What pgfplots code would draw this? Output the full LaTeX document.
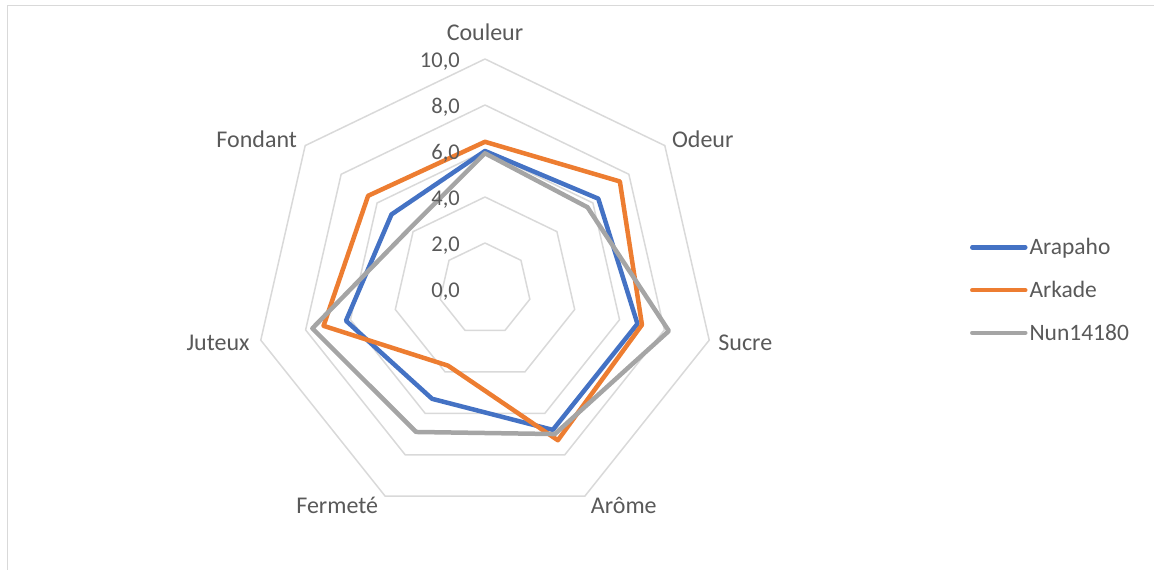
\documentclass[border=0pt]{standalone}
\usepackage{fontspec}
\setmainfont{Carlito}
\usepackage{pgfplots}
\usepackage{pgfplotstable}
\pgfplotsset{compat=1.18}
\usepgfplotslibrary{polar}
\definecolor{cA}{HTML}{4472C4}
\definecolor{cB}{HTML}{ED7D31}
\definecolor{cC}{HTML}{A5A5A5}
\definecolor{gridc}{HTML}{D9D9D9}
\definecolor{txt}{HTML}{595959}
\definecolor{framec}{HTML}{D9D9D9}

\pgfplotstableread{
ang      Arapaho Arkade Nun
90       6.0     6.4    5.9
38.5714  6.3     7.5    5.7
-12.8571 6.8     7.0    8.2
-64.2857 6.8     7.3    7.0
-115.7143 5.3    3.7    6.9
-167.1429 6.2    7.2    7.7
-218.5714 5.2    6.5    4.2
-270     6.0     6.4    5.9
}\radardata

\begin{document}
\begin{tikzpicture}[x=1pt,y=1pt]
\begin{polaraxis}[
  at={(485pt,281pt)}, anchor=center,
  scale only axis, width=460pt, height=460pt,
  hide axis, xmin=0, xmax=360, ymin=0, ymax=10, clip=false,
  every axis plot/.append style={line width=4.5pt, line join=round, line cap=round},
  legend cell align=left,
  legend style={draw=none, fill=none, at={(axis description cs:1.554,0.4978)}, anchor=west,
    inner sep=0pt, row sep=21pt, font=\fontsize{23.5}{27}\selectfont, text=txt,
    nodes={inner sep=2pt}},
  legend image code/.code={\draw[#1, line cap=round] (0pt,0pt) -- (53pt,0pt);},
]
\pgfplotsinvokeforeach{2,4,6,8,10}{
  \addplot[gridc, line width=1.5pt, line join=miter, forget plot] coordinates {
    (90,#1) (38.5714,#1) (-12.8571,#1) (-64.2857,#1) (-115.7143,#1) (-167.1429,#1) (-218.5714,#1) (-270,#1)};
}
\addplot[cA] table[x=ang, y=Arapaho] {\radardata};
\addlegendentry{Arapaho}
\addplot[cB] table[x=ang, y=Arkade] {\radardata};
\addlegendentry{Arkade}
\addplot[cC] table[x=ang, y=Nun] {\radardata};
\addlegendentry{Nun14180}

\begin{scope}[every node/.style={inner sep=0pt, text=txt, font=\fontsize{24}{28}\selectfont}]
\node[anchor=base] at (axis cs:90,10) [yshift=18pt] {Couleur};
\node[anchor=base west] at (axis cs:38.5714,10) [xshift=7pt, yshift=-2pt] {Odeur};
\node[anchor=base west] at (axis cs:-12.8571,10) [xshift=9pt, yshift=-10pt] {Sucre};
\node[anchor=base west] at (axis cs:-64.2857,10) [xshift=6pt, yshift=-17pt] {Arôme};
\node[anchor=base east] at (axis cs:-115.7143,10) [xshift=-7pt, yshift=-17pt] {Fermeté};
\node[anchor=base east] at (axis cs:-167.1429,10) [xshift=-11pt, yshift=-10pt] {Juteux};
\node[anchor=base east] at (axis cs:141.4286,10) [xshift=-8pt, yshift=-2pt] {Fondant};
\end{scope}
\begin{scope}[every node/.style={inner sep=0pt, text=txt, font=\fontsize{22.5}{27}\selectfont}]
\node[anchor=base east] at (axis cs:90,0) [xshift=-25pt, yshift=-9pt] {0,0};
\node[anchor=base east] at (axis cs:90,2) [xshift=-25pt, yshift=-9pt] {2,0};
\node[anchor=base east] at (axis cs:90,4) [xshift=-25pt, yshift=-9pt] {4,0};
\node[anchor=base east] at (axis cs:90,6) [xshift=-25pt, yshift=-9pt] {6,0};
\node[anchor=base east] at (axis cs:90,8) [xshift=-25pt, yshift=-9pt] {8,0};
\node[anchor=base east] at (axis cs:90,10) [xshift=-25pt, yshift=-9pt] {10,0};
\end{scope}
\end{polaraxis}
\draw[framec, line width=1.5pt] (7.5,0) -- (7.5,564.5) -- (1154,564.5);
\pgfresetboundingbox
\path[use as bounding box] (0,0) rectangle (1154,570);
\end{tikzpicture}
\end{document}
